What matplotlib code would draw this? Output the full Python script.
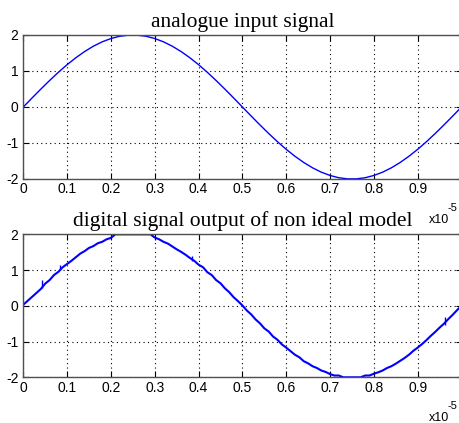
import numpy as np
import matplotlib
matplotlib.use('Agg')
from matplotlib import pyplot as plt

# time axis in units of 1e-5 s
t_in = np.arange(0, 51) * 0.02
v_in = [0.0, 0.251, 0.497, 0.736, 0.964, 1.176, 1.369, 1.541, 1.689, 1.810,
        1.902, 1.965, 1.996, 1.996, 1.965, 1.902, 1.810, 1.689, 1.541, 1.369,
        1.176, 0.964, 0.736, 0.497, 0.251, 0.0, -0.251, -0.497, -0.736, -0.964,
        -1.176, -1.369, -1.541, -1.689, -1.810, -1.902, -1.965, -1.996, -1.996, -1.965,
        -1.902, -1.810, -1.689, -1.541, -1.369, -1.176, -0.964, -0.736, -0.497, -0.251,
        0.0]

t_out = np.arange(0, 101) * 0.01
v_out = [0.03, 0.14, 0.25, 0.36, 0.47, 0.62, 0.72, 0.86, 0.95, 1.08,
         1.17, 1.26, 1.36, 1.46, 1.53, 1.62, 1.67, 1.75, 1.79, 1.86,
         1.90, 2.0, 2.0, 2.0, 2.0, 2.0, 2.0, 2.0, 2.0, 2.0,
         1.91, 1.86, 1.79, 1.74, 1.66, 1.58, 1.51, 1.43, 1.34, 1.26,
         1.15, 1.08, 0.94, 0.86, 0.72, 0.63, 0.49, 0.38, 0.24, 0.13,
         0.01, -0.13, -0.24, -0.38, -0.49, -0.63, -0.72, -0.86, -0.95, -1.08,
         -1.17, -1.27, -1.37, -1.44, -1.55, -1.61, -1.69, -1.74, -1.81, -1.85,
         -1.91, -1.95, -1.95, -2.0, -2.0, -2.0, -2.0, -2.0, -1.95, -1.95,
         -1.90, -1.86, -1.81, -1.74, -1.69, -1.62, -1.54, -1.46, -1.37, -1.26,
         -1.17, -1.07, -0.96, -0.84, -0.73, -0.61, -0.50, -0.37, -0.25, -0.12,
         0.0]
# short glitches in the digital output
spike_t = [0.042, 0.084, 0.385, 0.963]
spike_lo = [0.50, 1.00, 1.25, -0.55]
spike_hi = [0.73, 1.15, 1.40, -0.30]

xticks = [0, 0.1, 0.2, 0.3, 0.4, 0.5, 0.6, 0.7, 0.8, 0.9, 1.0]
xlabels = ['0', '0.1', '0.2', '0.3', '0.4', '0.5', '0.6', '0.7', '0.8', '0.9', '1']
yticks = [-2, -1, 0, 1, 2]

tickfont = ['Liberation Sans Narrow', 'Liberation Sans']

W, H = 459, 423
fig = plt.figure(figsize=(W / 100, H / 100), dpi=100)
ax1 = fig.add_axes([23.3 / W, (H - 179) / H, 438.2 / W, 144 / H])
ax2 = fig.add_axes([23.3 / W, (H - 377.3) / H, 438.2 / W, 143 / H])

ax1.plot(t_in, v_in, color='#0000ff', lw=1.0)
ax2.plot(t_out, v_out, color='#0000ff', lw=1.5)
ax2.vlines(spike_t, spike_lo, spike_hi, color='#0000ff', lw=1.0)

titles = ['analogue input signal', 'digital signal output of non ideal model']
for ax, title in zip([ax1, ax2], titles):
    ax.set_xlim(0, 1)
    ax.set_ylim(-2, 2)
    ax.set_xticks(xticks)
    ax.set_xticklabels(xlabels)
    ax.set_yticks(yticks)
    ax.set_yticklabels([str(v) for v in yticks])
    ax.tick_params(direction='in', length=4, width=0.8, top=True, right=True,
                   labelsize=10, colors='black')
    ax.tick_params(axis='x', pad=2.5)
    ax.tick_params(axis='y', pad=3.5)
    for lab in ax.get_xticklabels() + ax.get_yticklabels():
        lab.set_family(tickfont)
    ax.grid(True, color='black', linestyle=(0, (1, 3)), lw=0.8)
    for s in ax.spines.values():
        s.set_color('#505050')
        s.set_linewidth(1.0)
    ax.set_title(title, fontsize=15.5, family='Liberation Serif', pad=6)

# exponent labels
for ybase, yexp in [(223, 211), (421, 409)]:
    fig.text(429 / W, (H - ybase) / H, 'x10', fontsize=9, family=tickfont, va='baseline')
    fig.text(448 / W, (H - yexp) / H, '-5', fontsize=8, family=tickfont, va='baseline')

fig.savefig('out.png', dpi=100)
